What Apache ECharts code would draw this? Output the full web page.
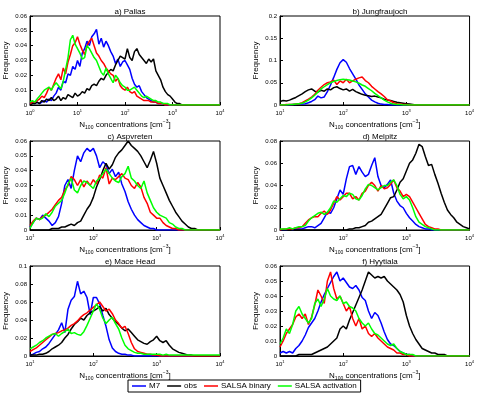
<!DOCTYPE html>
<html>
<head>
<meta charset="utf-8">
<script src="https://cdn.jsdelivr.net/npm/echarts@6/dist/echarts.min.js"></script>
<style>
  html, body { margin: 0; padding: 0; background: #fff; }
  #chart { width: 477px; height: 394px; }
</style>
</head>
<body>
<div id="chart"></div>
<script>
// log10 of bin centres (N100, cm^-3)
const binsA = [0.00,0.05,0.10,0.15,0.20,0.25,0.30,0.35,0.40,0.45,0.50,0.55,0.60,0.65,0.70,0.75,0.80,0.85,0.90,0.95,
  1.00,1.05,1.10,1.15,1.20,1.25,1.30,1.35,1.40,1.45,1.50,1.55,1.60,1.65,1.70,1.75,1.80,1.85,1.90,1.95,
  2.00,2.05,2.10,2.15,2.20,2.25,2.30,2.35,2.40,2.45,2.50,2.55,2.60,2.65,2.70,2.75,2.80,2.85,2.90,2.95,
  3.00,3.05,3.10,3.15,3.20,3.25,3.30,3.35,3.40,3.45,3.50,3.55,3.60,3.65,3.70,3.75,3.80,3.85,3.90,3.95,4.00];
const binsB = [1.00,1.05,1.10,1.15,1.20,1.25,1.30,1.35,1.40,1.45,1.50,1.55,1.60,1.65,1.70,1.75,1.80,1.85,1.90,1.95,
  2.00,2.05,2.10,2.15,2.20,2.25,2.30,2.35,2.40,2.45,2.50,2.55,2.60,2.65,2.70,2.75,2.80,2.85,2.90,2.95,
  3.00,3.05,3.10,3.15,3.20,3.25,3.30,3.35,3.40,3.45,3.50,3.55,3.60,3.65,3.70,3.75,3.80,3.85,3.90,3.95,4.00];

const seriesNames = ['M7', 'obs', 'SALSA binary', 'SALSA activation'];
const seriesColors = ['#0000ff', '#000000', '#ff0000', '#00ff00'];

// a) Pallas
const pallasM7 = [0.001,0.002,0.001,0.002,0.001,0.002,0.003,0.002,0.004,0.003,0.006,0.008,0.012,0.010,0.016,0.015,0.021,0.020,0.026,0.024,
  0.030,0.026,0.035,0.038,0.043,0.040,0.046,0.048,0.051,0.041,0.045,0.039,0.043,0.040,0.036,0.033,0.028,0.031,0.026,0.029,
  0.030,0.027,0.024,0.018,0.014,0.012,0.013,0.009,0.007,0.005,0.004,0.003,0.002,0.002,0.001,0.001,0.001,0,0,0,
  0,0,0,0,0,0,0,0,0,0,0,0,0,0,0,0,0,0,0,0,0];
const pallasObs = [0,0.001,0.001,0.002,0.001,0.003,0.002,0.004,0.003,0.005,0.003,0.004,0.006,0.003,0.005,0.004,0.007,0.006,0.005,0.008,
  0.006,0.007,0.009,0.008,0.011,0.010,0.013,0.014,0.013,0.016,0.018,0.017,0.020,0.022,0.024,0.023,0.027,0.030,0.033,0.032,
  0.031,0.038,0.032,0.030,0.036,0.038,0.034,0.032,0.030,0.028,0.031,0.029,0.031,0.023,0.020,0.017,0.012,0.009,0.007,0.006,
  0.004,0.002,0.001,0.001,0,0,0,0,0,0,0,0,0,0,0,0,0,0,0,0,0];
const pallasBinary = [0.001,0.002,0.002,0.003,0.004,0.006,0.005,0.008,0.012,0.010,0.014,0.018,0.021,0.017,0.025,0.021,0.029,0.034,0.040,0.042,
  0.046,0.041,0.037,0.034,0.040,0.043,0.045,0.040,0.035,0.033,0.030,0.028,0.025,0.023,0.021,0.020,0.016,0.018,0.013,0.011,
  0.010,0.012,0.009,0.008,0.009,0.006,0.005,0.004,0.003,0.003,0.003,0.002,0.002,0.002,0.001,0.001,0.001,0,0,0,
  0,0,0,0,0,0,0,0,0,0,0,0,0,0,0,0,0,0,0,0,0];
const pallasActivation = [0.002,0.003,0.002,0.004,0.006,0.008,0.010,0.011,0.012,0.010,0.013,0.015,0.013,0.011,0.016,0.024,0.032,0.044,0.047,0.041,
  0.038,0.035,0.031,0.032,0.040,0.038,0.035,0.032,0.030,0.026,0.022,0.020,0.025,0.021,0.018,0.015,0.020,0.018,0.015,0.013,
  0.012,0.010,0.010,0.011,0.012,0.010,0.008,0.006,0.005,0.006,0.005,0.004,0.003,0.003,0.002,0.002,0.001,0.001,0.001,0,
  0,0,0,0,0,0,0,0,0,0,0,0,0,0,0,0,0,0,0,0,0];

// b) Jungfraujoch
const jungM7 = [0,0,0,0,0.001,0.001,0.002,0.002,0.003,0.005,0.008,0.012,0.020,0.016,0.018,0.030,0.045,0.062,0.080,0.095,
  0.102,0.096,0.082,0.070,0.058,0.045,0.035,0.025,0.018,0.011,0.007,0.004,0.002,0.001,0.001,0,0,0,0,0,
  0,0,0,0,0,0,0,0,0,0,0,0,0,0,0,0,0,0,0,0,0];
const jungObs = [0.008,0.010,0.009,0.011,0.014,0.017,0.021,0.025,0.030,0.034,0.036,0.031,0.029,0.033,0.031,0.036,0.034,0.039,0.041,0.037,
  0.034,0.036,0.031,0.035,0.030,0.027,0.024,0.022,0.021,0.019,0.020,0.018,0.016,0.013,0.011,0.010,0.008,0.006,0.005,0.004,
  0.003,0.002,0.001,0,0,0,0,0,0,0,0,0,0,0,0,0,0,0,0,0,0];
const jungBinary = [0,0,0.001,0.001,0.001,0.002,0.003,0.005,0.009,0.013,0.018,0.024,0.033,0.040,0.046,0.050,0.052,0.056,0.046,0.054,
  0.050,0.058,0.050,0.054,0.058,0.061,0.063,0.055,0.050,0.042,0.036,0.030,0.025,0.019,0.012,0.009,0.005,0.003,0.002,0.001,
  0.001,0,0,0,0,0,0,0,0,0,0,0,0,0,0,0,0,0,0,0,0];
const jungActivation = [0,0,0,0.001,0.001,0.002,0.003,0.004,0.007,0.011,0.016,0.022,0.029,0.036,0.041,0.046,0.050,0.053,0.055,0.057,
  0.058,0.057,0.056,0.054,0.052,0.049,0.045,0.042,0.037,0.032,0.026,0.021,0.016,0.011,0.007,0.004,0.002,0.001,0.001,0,
  0,0,0,0,0,0,0,0,0,0,0,0,0,0,0,0,0,0,0,0,0];

// c) Aspvreten
const aspM7 = [0.002,0.005,0.008,0.007,0.010,0.008,0.006,0.003,0.005,0.009,0.018,0.030,0.034,0.028,0.040,0.050,0.046,0.052,0.055,0.053,
  0.055,0.050,0.042,0.046,0.044,0.038,0.041,0.036,0.039,0.031,0.026,0.019,0.014,0.010,0.007,0.005,0.003,0.002,0.001,0.001,
  0,0,0,0,0,0,0,0,0,0,0,0,0,0,0,0,0,0,0,0,0];
const aspObs = [0,0,0,0,0,0,0,0.001,0.001,0.001,0.002,0.002,0.003,0.004,0.003,0.005,0.006,0.010,0.014,0.017,
  0.022,0.029,0.034,0.040,0.045,0.041,0.044,0.049,0.052,0.054,0.057,0.060,0.057,0.055,0.053,0.050,0.046,0.042,0.047,0.053,
  0.045,0.035,0.030,0.025,0.020,0.016,0.012,0.009,0.006,0.004,0.002,0.001,0.001,0,0,0,0,0,0,0,0];
const aspBinary = [0.003,0.006,0.008,0.007,0.009,0.010,0.012,0.014,0.017,0.020,0.022,0.027,0.030,0.036,0.034,0.030,0.034,0.029,0.033,0.030,
  0.034,0.031,0.037,0.035,0.042,0.031,0.035,0.034,0.036,0.038,0.035,0.034,0.030,0.028,0.032,0.029,0.022,0.018,0.012,0.010,
  0.008,0.008,0.005,0.003,0.002,0.001,0.001,0,0,0,0,0,0,0,0,0,0,0,0,0,0];
const aspActivation = [0.001,0.005,0.008,0.007,0.008,0.011,0.009,0.012,0.016,0.018,0.020,0.025,0.031,0.035,0.027,0.025,0.030,0.033,0.032,0.030,
  0.028,0.033,0.035,0.038,0.041,0.038,0.035,0.033,0.032,0.036,0.038,0.043,0.035,0.033,0.030,0.028,0.033,0.025,0.020,0.015,
  0.012,0.010,0.009,0.008,0.005,0.004,0.002,0.001,0.001,0,0,0,0,0,0,0,0,0,0,0,0];

// d) Melpitz
const melM7 = [0,0,0,0.001,0,0.001,0.001,0.001,0.002,0.003,0.003,0.002,0.004,0.006,0.011,0.016,0.015,0.020,0.028,0.036,
  0.032,0.046,0.057,0.058,0.050,0.057,0.052,0.048,0.050,0.058,0.065,0.048,0.040,0.038,0.041,0.045,0.033,0.026,0.022,0.020,
  0.015,0.011,0.008,0.005,0.003,0.002,0.001,0.001,0,0,0,0,0,0,0,0,0,0,0,0,0];
const melObs = [0,0,0,0,0,0,0,0,0,0,0,0,0,0,0,0,0,0,0,0,
  0,0,0.001,0.001,0.002,0.002,0.003,0.004,0.007,0.008,0.010,0.012,0.014,0.019,0.024,0.029,0.030,0.036,0.043,0.046,
  0.053,0.060,0.063,0.069,0.077,0.075,0.066,0.058,0.059,0.050,0.042,0.033,0.025,0.018,0.014,0.011,0.007,0.005,0.003,0.002,0.001];
const melBinary = [0,0.001,0.001,0.001,0.001,0.002,0.002,0.003,0.006,0.009,0.011,0.012,0.012,0.015,0.017,0.014,0.018,0.024,0.030,0.027,
  0.030,0.033,0.033,0.028,0.030,0.027,0.033,0.035,0.040,0.043,0.040,0.035,0.040,0.037,0.038,0.041,0.045,0.038,0.035,0.030,
  0.032,0.030,0.025,0.020,0.015,0.010,0.005,0.003,0.002,0.001,0.001,0,0,0,0,0,0,0,0,0,0];
const melActivation = [0.001,0.001,0.001,0.002,0.001,0.002,0.003,0.003,0.004,0.008,0.011,0.013,0.015,0.016,0.014,0.016,0.020,0.026,0.025,0.028,
  0.031,0.030,0.033,0.032,0.028,0.027,0.031,0.037,0.041,0.040,0.038,0.036,0.038,0.040,0.040,0.043,0.045,0.040,0.032,0.028,
  0.030,0.027,0.020,0.012,0.007,0.005,0.003,0.002,0.001,0,0,0,0,0,0,0,0,0,0,0,0];

// e) Mace Head
const maceM7 = [0.001,0.002,0.004,0.005,0.008,0.010,0.014,0.019,0.024,0.029,0.037,0.026,0.052,0.062,0.066,0.083,0.069,0.072,0.065,0.046,
  0.065,0.065,0.058,0.045,0.033,0.018,0.009,0.005,0.003,0.002,0.002,0.001,0.001,0,0,0,0,0,0,0,
  0,0,0,0,0,0,0,0,0,0,0,0,0,0,0,0,0,0,0,0,0];
const maceObs = [0.001,0.001,0.001,0.002,0.002,0.003,0.005,0.008,0.010,0.012,0.015,0.020,0.024,0.030,0.035,0.038,0.042,0.040,0.045,0.048,
  0.050,0.052,0.055,0.050,0.053,0.046,0.042,0.038,0.035,0.031,0.028,0.030,0.026,0.022,0.018,0.016,0.014,0.013,0.016,0.018,
  0.022,0.017,0.015,0.017,0.012,0.008,0.006,0.004,0.003,0.002,0.001,0.001,0,0,0,0,0,0,0,0,0];
const maceBinary = [0.005,0.007,0.009,0.012,0.015,0.018,0.021,0.024,0.025,0.026,0.028,0.029,0.031,0.034,0.036,0.039,0.043,0.046,0.048,0.051,
  0.054,0.057,0.060,0.055,0.050,0.052,0.047,0.040,0.036,0.031,0.033,0.025,0.015,0.008,0.005,0.004,0.003,0.002,0.002,0.001,
  0.001,0,0,0,0,0,0,0,0,0,0,0,0,0,0,0,0,0,0,0,0];
const maceActivation = [0.008,0.010,0.012,0.015,0.017,0.020,0.022,0.024,0.025,0.022,0.025,0.027,0.030,0.025,0.026,0.024,0.023,0.027,0.034,0.042,
  0.050,0.058,0.052,0.042,0.036,0.040,0.043,0.036,0.030,0.020,0.012,0.008,0.006,0.004,0.003,0.003,0.002,0.002,0.002,0.002,
  0.002,0.002,0.001,0.002,0.001,0.001,0.001,0.001,0.001,0.001,0.001,0.001,0.001,0.001,0.001,0.001,0.001,0.001,0.001,0.001,0.001];

// f) Hyytiala
const hyyM7 = [0.002,0.003,0.002,0.003,0.002,0.005,0.007,0.010,0.014,0.019,0.022,0.025,0.030,0.036,0.041,0.045,0.049,0.053,0.056,0.050,
  0.052,0.049,0.046,0.045,0.047,0.044,0.039,0.037,0.030,0.025,0.029,0.027,0.022,0.016,0.011,0.008,0.007,0.005,0.003,0.002,
  0.001,0.001,0,0,0,0,0,0,0,0,0,0,0,0,0,0,0,0,0,0,0];
const hyyObs = [0,0,0,0,0,0,0.001,0.001,0.001,0.001,0.001,0.002,0.003,0.004,0.005,0.006,0.008,0.010,0.012,0.018,
  0.020,0.018,0.024,0.029,0.034,0.039,0.044,0.050,0.056,0.054,0.052,0.053,0.052,0.053,0.050,0.048,0.046,0.044,0.041,0.036,
  0.027,0.020,0.015,0.011,0.008,0.005,0.004,0.003,0.002,0.002,0.001,0.001,0.001,0,0,0,0,0,0,0,0];
const hyyBinary = [0.006,0.010,0.015,0.018,0.021,0.026,0.028,0.025,0.028,0.021,0.026,0.034,0.044,0.040,0.035,0.050,0.056,0.045,0.038,0.040,
  0.035,0.030,0.033,0.025,0.020,0.025,0.018,0.020,0.015,0.013,0.015,0.012,0.010,0.008,0.006,0.005,0.004,0.002,0.002,0.001,
  0.001,0,0,0,0,0,0,0,0,0,0,0,0,0,0,0,0,0,0,0,0];
const hyyActivation = [0.008,0.012,0.018,0.015,0.021,0.030,0.033,0.028,0.025,0.022,0.025,0.035,0.038,0.033,0.038,0.045,0.040,0.038,0.037,0.040,
  0.035,0.036,0.033,0.032,0.030,0.025,0.022,0.020,0.022,0.018,0.015,0.014,0.012,0.010,0.008,0.007,0.008,0.005,0.003,0.002,
  0.001,0.001,0.001,0,0,0,0,0,0,0,0,0,0,0,0,0,0,0,0,0,0];

const panels = [
  { title: 'a) Pallas', bins: binsA, xMin: 1, yMax: 0.06, yStep: 0.01, lines: [pallasM7, pallasObs, pallasBinary, pallasActivation], left: 30, top: 16, height: 89 },
  { title: 'b) Jungfraujoch', bins: binsB, xMin: 10, yMax: 0.2, yStep: 0.05, lines: [jungM7, jungObs, jungBinary, jungActivation], left: 280, top: 16, height: 89 },
  { title: 'c) Aspvreten', bins: binsB, xMin: 10, yMax: 0.06, yStep: 0.01, lines: [aspM7, aspObs, aspBinary, aspActivation], left: 30, top: 141, height: 89 },
  { title: 'd) Melpitz', bins: binsB, xMin: 10, yMax: 0.08, yStep: 0.02, lines: [melM7, melObs, melBinary, melActivation], left: 280, top: 141, height: 89 },
  { title: 'e) Mace Head', bins: binsB, xMin: 10, yMax: 0.1, yStep: 0.02, lines: [maceM7, maceObs, maceBinary, maceActivation], left: 30, top: 266, height: 90 },
  { title: 'f) Hyytiala', bins: binsB, xMin: 10, yMax: 0.06, yStep: 0.01, lines: [hyyM7, hyyObs, hyyBinary, hyyActivation], left: 280, top: 266, height: 90 },
];

const FONT = 'Liberation Sans, Arial, sans-serif';
const W = 190;

const option = {
  animation: false,
  textStyle: { fontFamily: FONT },
  title: panels.map((p) => ({
    text: p.title,
    left: p.left + W / 2,
    top: p.top - 13,
    textAlign: 'center',
    textStyle: { fontSize: 8, fontWeight: 'normal', color: '#000', fontFamily: FONT },
  })),
  legend: {
    data: seriesNames,
    left: 128,
    top: 380,
    orient: 'horizontal',
    icon: 'rect',
    itemWidth: 14,
    itemHeight: 1.5,
    itemGap: 7,
    padding: [2, 4],
    borderColor: '#000',
    borderWidth: 1,
    selectedMode: false,
    textStyle: { fontSize: 8, color: '#000', fontFamily: FONT, padding: [0, 0, 0, -2] },
  },
  grid: panels.map((p) => ({
    left: p.left, top: p.top, width: W, height: p.height,
    show: true, borderColor: '#000', borderWidth: 1, containLabel: false,
  })),
  xAxis: panels.map((p, i) => ({
    type: 'log',
    logBase: 10,
    gridIndex: i,
    min: p.xMin,
    max: 10000,
    interval: 1,
    name: '{n|N}{sub|100}{n| concentrations [cm}{sup|−3}{n|]}',
    nameLocation: 'middle',
    nameGap: 14,
    nameTextStyle: {
      rich: {
        n: { fontSize: 8, color: '#000', fontFamily: FONT },
        sub: { fontSize: 5, color: '#000', fontFamily: FONT, verticalAlign: 'bottom', padding: [6, 0, 0, 0] },
        sup: { fontSize: 5, color: '#000', fontFamily: FONT, verticalAlign: 'top', padding: [0, 0, 6, 0] },
      },
    },
    axisLine: { lineStyle: { color: '#000', width: 1 } },
    axisTick: { inside: true, length: 3, lineStyle: { color: '#000' } },
    splitLine: { show: false },
    axisLabel: {
      margin: 4,
      formatter: (v) => '{b|10}{s|' + Math.round(Math.log10(v)) + '}',
      rich: {
        b: { fontSize: 6, color: '#000', fontFamily: FONT },
        s: { fontSize: 4, color: '#000', fontFamily: FONT, verticalAlign: 'top', padding: [0, 0, 5, 0] },
      },
    },
  })),
  yAxis: panels.map((p, i) => ({
    type: 'value',
    gridIndex: i,
    min: 0,
    max: p.yMax,
    interval: p.yStep,
    name: 'Frequency',
    nameLocation: 'middle',
    nameGap: 20,
    nameTextStyle: { fontSize: 8, color: '#000', fontFamily: FONT },
    axisLine: { show: true, lineStyle: { color: '#000', width: 1 } },
    axisTick: { show: true, inside: true, length: 3, lineStyle: { color: '#000' } },
    splitLine: { show: false },
    axisLabel: {
      fontSize: 6, color: '#000', margin: 3, fontFamily: FONT,
      formatter: (v) => String(Math.round(v * 100) / 100),
    },
  })),
  series: panels.flatMap((p, i) => p.lines.map((ys, k) => ({
    name: seriesNames[k],
    type: 'line',
    xAxisIndex: i,
    yAxisIndex: i,
    symbol: 'none',
    color: seriesColors[k],
    lineStyle: { width: 1.5, color: seriesColors[k] },
    data: p.bins.map((e, j) => [Math.pow(10, e), ys[j]]),
  }))),
};

const chart = echarts.init(document.getElementById('chart'));
chart.setOption(option);
</script>
</body>
</html>
